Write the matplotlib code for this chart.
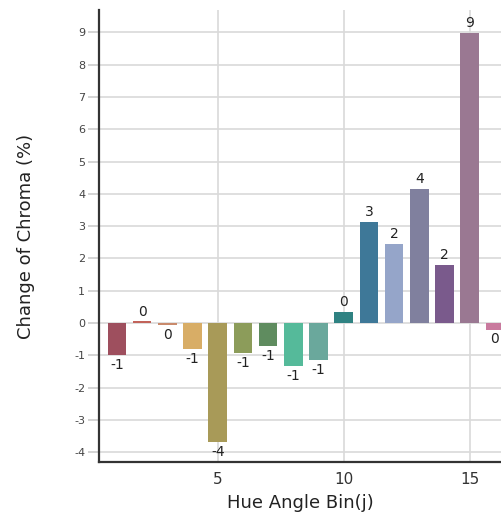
import matplotlib
matplotlib.use("Agg")
from matplotlib import pyplot as plt
import numpy as np

plt.rcParams['axes.unicode_minus'] = False

# data
bins = [1, 2, 3, 4, 5, 6, 7, 8, 9, 10, 11, 12, 13, 14, 15, 16]
chroma_change = [-0.98, 0.05, -0.07, -0.81, -3.69, -0.94, -0.71, -1.33, -1.15,
                 0.34, 3.12, 2.44, 4.15, 1.80, 8.97, -0.20]
bar_colors = ['#9e4f5e', '#c2635a', '#c98a6c', '#d8ad66', '#a89a58', '#8c9c5a',
              '#5f8c5f', '#55ba9a', '#6aa89c', '#2f8282', '#3e7898', '#95a5c9',
              '#80809e', '#7a5a8c', '#9a7892', '#c97a9e']
x_ticks = [5, 10, 15]
y_ticks = list(range(-4, 10))

fig = plt.figure(figsize=(5.02, 5.24), dpi=100)
ax = fig.add_axes([99/502, 1-462/524, 1-99/502, (462-10)/524])

ax.bar(bins, chroma_change, width=0.74, color=bar_colors, zorder=3)

# value labels (rounded), above positive bars and below negative ones
for b, v in zip(bins, chroma_change):
    txt = str(int(round(v)))
    if v >= 0:
        ax.annotate(txt, (b, v), xytext=(0, 2), textcoords='offset points',
                    ha='center', va='bottom', fontsize=10, color='#222222',
                    annotation_clip=False)
    else:
        ax.annotate(txt, (b, v), xytext=(0, -2), textcoords='offset points',
                    ha='center', va='top', fontsize=10, color='#222222',
                    annotation_clip=False)

ax.set_xlim(0.29, 16.28)
ax.set_ylim(-4.3, 9.69)
ax.set_xticks(x_ticks)
ax.set_yticks(y_ticks)
ax.tick_params(axis='x', length=0, labelsize=11, pad=7, colors='#333333')
ax.tick_params(axis='y', length=8, width=1.2, color='#cccccc', labelsize=8,
               pad=2, labelcolor='#444444')

ax.grid(True, color='#d9d9d9', linewidth=1.2, zorder=0)
ax.set_axisbelow(True)

for side in ['top', 'right']:
    ax.spines[side].set_visible(False)
for side in ['left', 'bottom']:
    ax.spines[side].set_color('#333333')
    ax.spines[side].set_linewidth(1.6)

ax.set_xlabel('Hue Angle Bin(j)', fontsize=13, color='#222222', labelpad=5)
ax.set_ylabel('Change of Chroma (%)', fontsize=13, color='#222222', labelpad=28)

fig.savefig('out.png', dpi=100)
